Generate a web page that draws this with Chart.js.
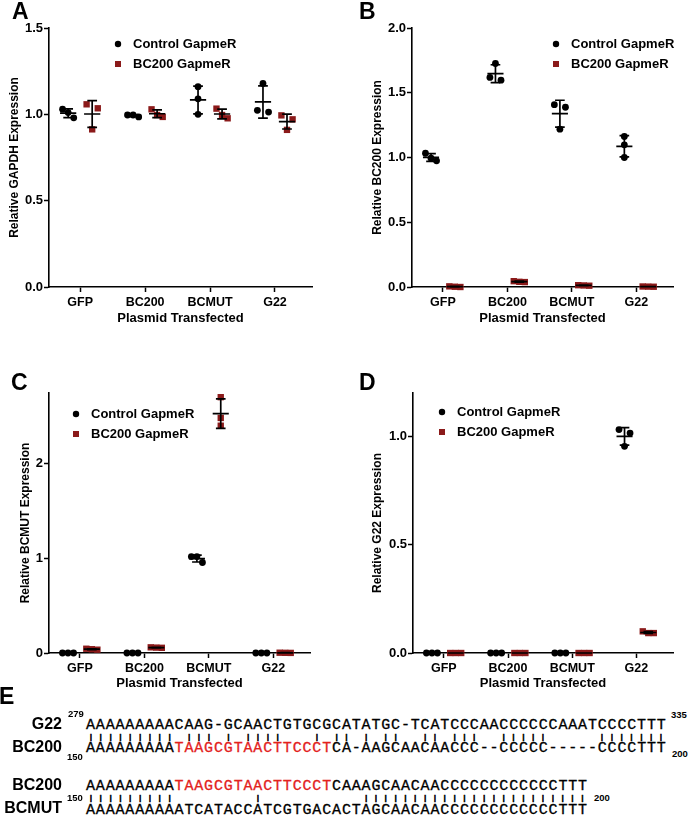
<!DOCTYPE html>
<html>
<head>
<meta charset="utf-8">
<title>BC200 GapmeR knockdown</title>
<script src="https://cdn.jsdelivr.net/npm/chart.js@4.4.1/dist/chart.umd.min.js"></script>
<style>
  html, body { margin: 0; padding: 0; background: #fff; }
  body { position: relative; width: 688px; height: 818px; overflow: hidden;
         font-family: "Liberation Sans", Arial, sans-serif; color: #000; }
  canvas { position: absolute; }
  .lbl { position: absolute; line-height: 1; white-space: pre; font-weight: bold; }
  .seq { position: absolute; line-height: 1; white-space: pre;
         font-family: "Liberation Mono", monospace; font-size: 15px; letter-spacing: 0.84px;
         -webkit-text-stroke: 0.3px currentColor; }
  .seq .hi { color: #e3211c; }
  .bars { position: absolute; line-height: 1; white-space: nowrap;
          font: bold 6.5px "Liberation Sans", Arial, sans-serif; }
  .bars span { display: inline-block; width: 9.84px; text-align: center;
               -webkit-text-stroke: 0.6px #000; }
</style>
</head>
<body>

<canvas id="chartA" width="344" height="335" style="left:0;top:0"></canvas>
<canvas id="chartB" width="344" height="335" style="left:344px;top:0"></canvas>
<canvas id="chartC" width="344" height="330" style="left:0;top:370px"></canvas>
<canvas id="chartD" width="344" height="330" style="left:344px;top:370px"></canvas>

<script>
/* ---------------- DATA ---------------- */

const plasmids = ['GFP', 'BC200', 'BCMUT', 'G22'];
const seriesNames = ['Control GapmeR', 'BC200 GapmeR'];

// three replicates per plasmid
const gapdhControl = [[1.03, 0.98, 1.01], [0.985, 0.996, 0.996], [1.16, 1.09, 1.0], [1.179, 1.013, 1.023]];
const gapdhBC200   = [[1.058, 1.035, 0.913], [0.985, 1.029, 0.996], [0.977, 1.033, 0.996], [0.994, 0.971, 0.91]];

const bc200Control = [[1.033, 0.974, 0.995], [1.726, 1.597, 1.618], [1.408, 1.388, 1.219], [1.162, 1.098, 1.0]];
const bc200BC200   = [[0.0, 0.005, 0.002], [0.04, 0.045, 0.038], [0.012, 0.01, 0.014], [0.003, 0.002, 0.004]];

const bcmutControl = [[0, 0, 0], [0, 0, 0], [1.02, 1.02, 0.957], [0, 0, 0]];
const bcmutBC200   = [[0.04, 0.045, 0.035], [0.057, 0.06, 0.055], [2.706, 2.486, 2.404], [0.002, 0.001, 0.003]];

const g22Control = [[0, 0, 0], [0, 0, 0], [0, 0, 0], [1.031, 1.015, 0.954]];
const g22BC200   = [[0, 0, 0], [0, 0, 0], [0, 0, 0], [0.1, 0.092, 0.092]];

const gapdhTicks = [0, 0.5, 1.0, 1.5];
const bc200Ticks = [0, 0.5, 1.0, 1.5, 2.0];
const bcmutTicks = [0, 1, 2];
const g22Ticks   = [0, 0.5, 1.0];

// panel E alignments
const seqG22       = 'AAAAAAAAACAAG-GCAACTGTGCGCATATGC-TCATCCCAACCCCCCAAATCCCCTTT';
const seqBC200a    = 'AAAAAAAAATAAGCGTAACTTCCCTCA-AAGCAACAACCC--CCCCC-----CCCCTTT';
const seqBC200b    = 'AAAAAAAAATAAGCGTAACTTCCCTCAAAGCAACAACCCCCCCCCCCCTTT';
const seqBCMUT     = 'AAAAAAAAAATCATACCATCGTGACACTAGCAACAACCCCCCCCCCCCTTT';
const redMotif     = 'TAAGCGTAACTTCCCT';

/* ---------------- HELPERS ---------------- */

Chart.defaults.font.family = '"Liberation Sans", Arial, sans-serif';
Chart.defaults.color = '#000';

const CONTROL_COLOR = '#000000';
const KD_COLOR = '#8b1a1a';
const SHIFT = 0.185;     // offset of each series from the category
const JITTER = 0.086;    // horizontal step between overlapping dots

function mean(a) {
    return a.reduce((s, v) => s + v, 0) / a.length;
}

function sd(a) {
    const m = mean(a);
    return Math.sqrt(a.reduce((s, v) => s + (v - m) * (v - m), 0) / (a.length - 1));
}

// spread dots sideways when they would overlap (like a scatter dot plot)
function spread(vals, pxPerUnit) {
    const idx = vals.map((v, i) => i).sort((a, b) => vals[b] - vals[a]);
    const out = new Array(vals.length).fill(0);
    let cluster = [idx[0]];
    const flush = () => {
        const n = cluster.length;
        const pattern = n === 1 ? [0] : n === 2 ? [-1, 1] : cluster.map((_, k) => k - (n - 1) / 2);
        cluster.forEach((i, k) => { out[i] = pattern[k]; });
    };
    for (let k = 1; k < idx.length; k++) {
        if ((vals[idx[k - 1]] - vals[idx[k]]) * pxPerUnit < 6.5) cluster.push(idx[k]);
        else { flush(); cluster = [idx[k]]; }
    }
    flush();
    return out;
}

function toPoints(groups, shift, yMax) {
    const pts = [];
    groups.forEach((vals, g) => {
        const off = spread(vals, 260 / yMax);
        vals.forEach((v, i) => pts.push({ x: g + shift + off[i] * JITTER, y: v }));
    });
    return pts;
}

/* ---------------- PLUGINS ---------------- */

const meanSDPlugin = {
    id: 'meanSD',
    afterDatasetsDraw(chart) {
        const { ctx, scales: { x, y } } = chart;
        ctx.save();
        ctx.strokeStyle = '#000';
        ctx.lineWidth = 1.7;
        chart.data.datasets.forEach(ds => {
            ds.groups.forEach((vals, g) => {
                const m = mean(vals), s = sd(vals);
                const c = g + ds.shift;
                const cx = x.getPixelForValue(c);
                const my = y.getPixelForValue(m);
                const top = y.getPixelForValue(m + s);
                const bot = y.getPixelForValue(Math.max(m - s, 0));
                ctx.beginPath();
                ctx.moveTo(x.getPixelForValue(c - 0.125), my);
                ctx.lineTo(x.getPixelForValue(c + 0.125), my);
                ctx.moveTo(cx, top);
                ctx.lineTo(cx, bot);
                ctx.moveTo(x.getPixelForValue(c - 0.075), top);
                ctx.lineTo(x.getPixelForValue(c + 0.075), top);
                ctx.moveTo(x.getPixelForValue(c - 0.075), bot);
                ctx.lineTo(x.getPixelForValue(c + 0.075), bot);
                ctx.stroke();
            });
        });
        ctx.restore();
    }
};

const insetLegendPlugin = {
    id: 'insetLegend',
    afterDraw(chart, args, opts) {
        const ctx = chart.ctx;
        ctx.save();
        ctx.font = 'bold 13px "Liberation Sans", Arial, sans-serif';
        ctx.textBaseline = 'middle';
        chart.data.datasets.forEach((ds, i) => {
            const y = opts.y + i * opts.gap;
            ctx.fillStyle = ds.backgroundColor;
            if (ds.pointStyle === 'rect') {
                ctx.fillRect(opts.x - 3, y - 3, 6, 6);
            } else {
                ctx.beginPath();
                ctx.arc(opts.x, y, 3.2, 0, Math.PI * 2);
                ctx.fill();
            }
            ctx.fillStyle = '#000';
            ctx.fillText(ds.label, opts.x + 15, y);
        });
        ctx.restore();
    }
};

/* ---------------- CHARTS ---------------- */

function buildPanel(cfg) {
    new Chart(document.getElementById(cfg.id), {
        type: 'scatter',
        data: {
            datasets: [{
                label: seriesNames[0],
                data: toPoints(cfg.control, -SHIFT, cfg.yMax),
                groups: cfg.control,
                shift: -SHIFT,
                pointStyle: 'circle',
                pointRadius: 3.4,
                backgroundColor: CONTROL_COLOR,
                borderColor: CONTROL_COLOR,
                borderWidth: 0,
                clip: false
            }, {
                label: seriesNames[1],
                data: toPoints(cfg.knockdown, SHIFT, cfg.yMax),
                groups: cfg.knockdown,
                shift: SHIFT,
                pointStyle: 'rect',
                pointRadius: 4.5,
                backgroundColor: KD_COLOR,
                borderColor: KD_COLOR,
                borderWidth: 0,
                clip: false
            }]
        },
        options: {
            responsive: false,
            animation: false,
            devicePixelRatio: 1,
            layout: { padding: cfg.padding },
            plugins: {
                legend: { display: false },
                tooltip: { enabled: false },
                insetLegend: cfg.legend
            },
            scales: {
                x: {
                    type: 'linear',
                    min: -0.48,
                    max: 3.57,
                    afterBuildTicks: s => { s.ticks = plasmids.map((_, i) => ({ value: i })); },
                    afterFit: s => { s.height = cfg.xHeight; },
                    ticks: {
                        callback: v => plasmids[v],
                        autoSkip: false,
                        maxRotation: 0,
                        padding: 3,
                        font: { size: 12.5, weight: 'bold' },
                        color: '#000'
                    },
                    grid: { display: true, drawOnChartArea: false, drawTicks: true, tickLength: 5, tickColor: '#000', tickWidth: 1.5 },
                    border: { display: true, color: '#000', width: 1.6 },
                    title: {
                        display: true,
                        text: 'Plasmid Transfected',
                        font: { size: 13, weight: 'bold' },
                        color: '#000',
                        padding: { top: 0, bottom: 9 }
                    }
                },
                y: {
                    min: 0,
                    max: cfg.yMax,
                    afterBuildTicks: s => { s.ticks = cfg.ticks.map(v => ({ value: v })); },
                    afterFit: s => { s.width = cfg.yWidth; },
                    ticks: {
                        callback: v => v.toFixed(cfg.decimals),
                        padding: 1,
                        font: { size: 13, weight: 'bold' },
                        color: '#000'
                    },
                    grid: { display: true, drawOnChartArea: false, drawTicks: true, tickLength: 5, tickColor: '#000', tickWidth: 1.5 },
                    border: { display: true, color: '#000', width: 1.6 },
                    title: {
                        display: true,
                        text: cfg.yTitle,
                        font: { size: 12, weight: 'bold' },
                        color: '#000',
                        padding: { top: cfg.yTitlePad, bottom: 0 }
                    }
                }
            }
        },
        plugins: [meanSDPlugin, insetLegendPlugin]
    });
}

buildPanel({
    id: 'chartA', control: gapdhControl, knockdown: gapdhBC200,
    yMax: 1.5, ticks: gapdhTicks, decimals: 1, yTitle: 'Relative GAPDH Expression',
    padding: { left: 0, top: 28, right: 32, bottom: 0 }, yWidth: 49, xHeight: 48, yTitlePad: 7,
    legend: { x: 118, y: 44, gap: 20 }
});

buildPanel({
    id: 'chartB', control: bc200Control, knockdown: bc200BC200,
    yMax: 2.0, ticks: bc200Ticks, decimals: 1, yTitle: 'Relative BC200 Expression',
    padding: { left: 0, top: 28, right: 15, bottom: 0 }, yWidth: 68, xHeight: 48, yTitlePad: 26,
    legend: { x: 212, y: 44, gap: 20 }
});

buildPanel({
    id: 'chartC', control: bcmutControl, knockdown: bcmutBC200,
    yMax: 2.75, ticks: bcmutTicks, decimals: 0, yTitle: 'Relative BCMUT Expression',
    padding: { left: 0, top: 23, right: 34, bottom: 0 }, yWidth: 49, xHeight: 47, yTitlePad: 18,
    legend: { x: 76, y: 44, gap: 20 }
});

buildPanel({
    id: 'chartD', control: g22Control, knockdown: g22BC200,
    yMax: 1.2, ticks: g22Ticks, decimals: 1, yTitle: 'Relative G22 Expression',
    padding: { left: 0, top: 23, right: 15, bottom: 0 }, yWidth: 69, xHeight: 47, yTitlePad: 26,
    legend: { x: 98, y: 42, gap: 20 }
});

/* ---------------- PANEL LETTERS + ALIGNMENT (E) ---------------- */

const SEQ_FS = 15;

function label(text, x, baseline, size, align) {
    const d = document.createElement('div');
    d.className = 'lbl';
    d.textContent = text;
    d.style.fontSize = size + 'px';
    d.style.top = (baseline - 0.8465 * size) + 'px';
    if (align === 'right') d.style.right = (688 - x) + 'px';
    else d.style.left = x + 'px';
    document.body.appendChild(d);
}

function seqRow(seq, x, baseline, highlight) {
    const d = document.createElement('div');
    d.className = 'seq';
    d.style.left = x + 'px';
    d.style.top = (baseline - 0.7665 * SEQ_FS) + 'px';
    const k = highlight ? seq.indexOf(redMotif) : -1;
    if (k < 0) {
        d.textContent = seq;
    } else {
        d.appendChild(document.createTextNode(seq.slice(0, k)));
        const s = document.createElement('span');
        s.className = 'hi';
        s.textContent = redMotif;
        d.appendChild(s);
        d.appendChild(document.createTextNode(seq.slice(k + redMotif.length)));
    }
    document.body.appendChild(d);
}

// match marks between two aligned rows
function barRow(a, b, x, mid) {
    const d = document.createElement('div');
    d.className = 'bars';
    d.style.left = x + 'px';
    d.style.top = (mid - 3.8) + 'px';
    for (let i = 0; i < Math.min(a.length, b.length); i++) {
        const c = document.createElement('span');
        c.textContent = (a[i] === b[i] && a[i] !== '-') ? '|' : '\u00a0';
        d.appendChild(c);
    }
    document.body.appendChild(d);
}

label('A', 12, 19, 23);
label('B', 359, 19, 23);
label('C', 11, 390, 23);
label('D', 359, 390, 23);
label('E', -1, 704, 23);

// block 1: G22 vs BC200
label('G22', 62, 729.5, 16, 'right');
label('BC200', 62, 752.5, 16, 'right');
label('279', 68, 717.5, 9.5);
label('335', 671, 718, 9.5);
label('150', 67, 760, 9.5);
label('200', 672, 757, 9.5);
seqRow(seqG22, 86, 729.5, false);
barRow(seqG22, seqBC200a, 86, 736.5);
seqRow(seqBC200a, 86, 752.5, true);

// block 2: BC200 vs BCMUT
label('BC200', 62, 790.5, 16, 'right');
label('BCMUT', 62, 814, 16, 'right');
label('150', 67, 801, 9.5);
label('200', 594, 801, 9.5);
seqRow(seqBC200b, 86, 790.5, true);
barRow(seqBC200b, seqBCMUT, 86, 797.5);
seqRow(seqBCMUT, 86, 814, false);
</script>
</body>
</html>
